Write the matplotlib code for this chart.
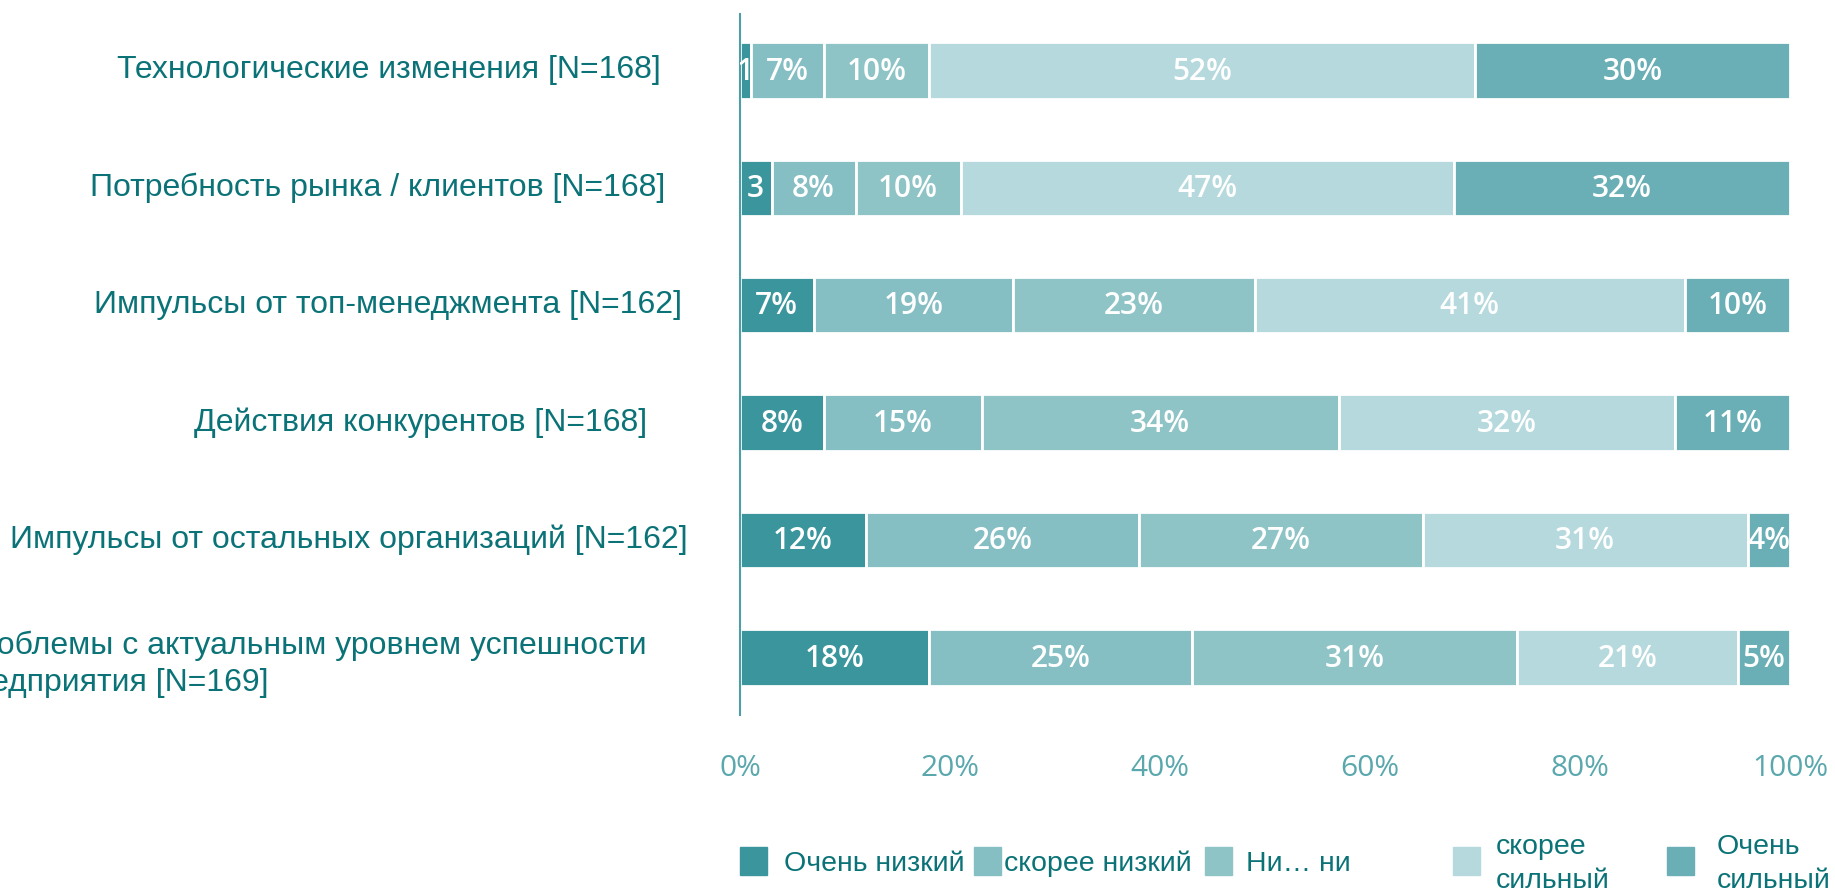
import matplotlib
matplotlib.use("Agg")
import matplotlib.pyplot as plt
from matplotlib.patches import Rectangle
import matplotlib.transforms as mtransforms

categories = [
    "Технологические изменения [N=168]",
    "Потребность рынка / клиентов [N=168]",
    "Импульсы от топ-менеджмента [N=162]",
    "Действия конкурентов [N=168]",
    "Импульсы от остальных организаций [N=162]",
    "Проблемы с актуальным уровнем успешности\nпредприятия [N=169]",
]
series_names = ["Очень низкий", "скорее низкий", "Ни… ни", "скорее\nсильный", "Очень\nсильный"]
very_low = [1, 3, 7, 8, 12, 18]
rather_low = [7, 8, 19, 15, 26, 25]
neither = [10, 10, 23, 34, 27, 31]
rather_strong = [52, 47, 41, 32, 31, 21]
very_strong = [30, 32, 10, 11, 4, 5]
series = [very_low, rather_low, neither, rather_strong, very_strong]
seg_labels = [
    ["1", "7%", "10%", "52%", "30%"],
    ["3", "8%", "10%", "47%", "32%"],
    ["7%", "19%", "23%", "41%", "10%"],
    ["8%", "15%", "34%", "32%", "11%"],
    ["12%", "26%", "27%", "31%", "4%"],
    ["18%", "25%", "31%", "21%", "5%"],
]
xticks = [0, 20, 40, 60, 80, 100]
xtick_labels = ["0%", "20%", "40%", "60%", "80%", "100%"]

colors = ["#3a969c", "#86bfc3", "#8fc4c7", "#b5d9dc", "#6aafb5"]
text_dark = "#0b7377"
tick_col = "#5aa8ad"

W, H = 1835, 890
fig = plt.figure(figsize=(W / 100, H / 100), dpi=100)
ax = fig.add_axes([740 / W, 1 - 715 / H, (1790 - 740) / W, (715 - 14) / H])

ypos = list(range(len(categories)))
left = [0] * len(categories)
for si, vals in enumerate(series):
    ax.barh(ypos, vals, left=left, height=0.48, color=colors[si],
            edgecolor="white", linewidth=2)
    for i, v in enumerate(vals):
        ax.text(left[i] + v / 2, i + 0.01, seg_labels[i][si], ha="center", va="center",
                color="white", fontsize=21.5, family="Open Sans", fontweight="semibold",
                clip_on=True)
    left = [l + v for l, v in zip(left, vals)]

ax.set_xlim(0, 100)
ax.set_ylim(5.49, -0.48)
ax.set_yticks([])
ax.set_xticks(xticks)
ax.set_xticklabels(xtick_labels, family="Open Sans", fontsize=21.5, color=tick_col)
ax.tick_params(axis="x", length=0, pad=28)
for s in ["top", "right", "bottom"]:
    ax.spines[s].set_visible(False)
ax.spines["left"].set_color("#4e9fa5")
ax.spines["left"].set_linewidth(1.5)

# category labels
label_right_px = [661, 665, 682, 647, 688, 647]
tr = mtransforms.blended_transform_factory(fig.transFigure, ax.transData)
for i, (cat, xr) in enumerate(zip(categories, label_right_px)):
    ax.text(xr / W, i + (0.06 if "\n" in cat else 0), cat, transform=tr, ha="right", va="center",
            multialignment="left", fontsize=23, family="Liberation Sans",
            color=text_dark, linespacing=1.3, clip_on=False)

# legend
sq_x = [740, 974, 1205, 1453, 1667]
tx_x = [784, 1004, 1246, 1496, 1717]
for i, name in enumerate(series_names):
    fig.patches.append(Rectangle((sq_x[i] / W, 1 - 875 / H), 27 / W, 28 / H,
                                 transform=fig.transFigure, color=colors[i]))
    fig.text(tx_x[i] / W, 1 - 864 / H, name, ha="left", va="center",
             fontsize=20.5, family="Liberation Sans", color=text_dark, linespacing=1.35)

fig.savefig("out.png", dpi=100)
